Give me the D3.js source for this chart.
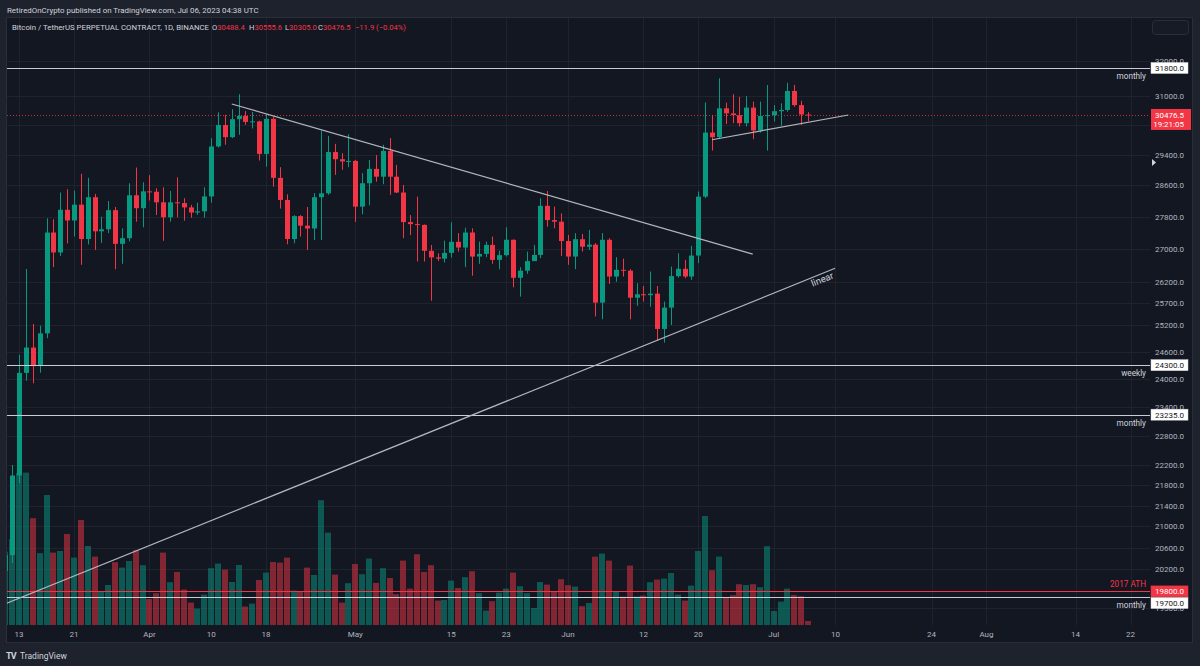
<!DOCTYPE html>
<html><head><meta charset="utf-8">
<script src="https://cdn.jsdelivr.net/npm/d3@7"></script>
<style>
html,body{margin:0;padding:0;background:#1e222d;}
svg{display:block;font-family:Roboto,"Liberation Sans",sans-serif;}
</style></head><body>
<svg id="c" width="1200" height="666"></svg>
<script>
// ---------- data (daily BTCUSDT perpetual, Mar 11 – Jul 6 2023) ----------
const startDate = "2023-03-11";
const open = [20170,20460,21990,24130,24690,24280,25010,27400,26910,27970,27700,28100,27240,28290,27430,27480,27960,27120,27260,28340,28010,28440,28430,28160,27780,28160,28140,28030,27900,27930,28310,29620,30200,29870,30360,30450,30285,30300,29420,30370,28790,28220,27240,27810,27570,27500,28290,28390,29470,29280,29220,29235,28050,28650,29025,28820,29500,28820,28410,27660,27610,27590,26950,26790,26760,26900,27170,27030,27400,26810,26875,27095,26730,26845,27220,26300,26470,26700,26850,28070,27710,27670,27190,26810,27235,27050,27100,25715,27220,26330,26490,26470,25830,25910,25890,25925,25110,25600,26340,26515,26330,26835,28305,29995,29870,30660,30520,30470,30250,30680,30050,30450,30470,30580,30615,31145,30750,30488.4];
const high = [20800,22200,24530,26510,25225,25185,27755,27730,28410,28495,28460,28895,28790,28375,27795,28195,28040,27505,28650,29060,28675,28860,28520,28545,28450,28805,28265,28095,28150,28545,29845,30550,30480,30635,31055,30585,30560,30320,30495,30430,29070,28365,27835,27835,28040,28395,30050,29905,29690,29440,29950,29260,28915,29260,29390,29665,29845,29130,28605,27835,28305,27600,27095,26890,27200,27655,27385,27520,27505,27175,27175,27300,26955,27530,27230,26555,26930,27095,28265,28450,28050,27880,27340,27385,27365,27465,27140,27385,27260,26795,26760,26505,26170,26105,26450,26105,25740,26570,26890,26730,27070,28435,30825,30476,31505,30815,31055,30980,31000,30845,30845,31315,30750,30800,31380,31315,30870,30555.6];
const low = [19900,20315,21840,23960,23905,24135,24900,26555,26825,27130,27300,26610,27105,26970,27145,27385,26505,26635,27180,27670,27530,28205,27835,27195,27670,27780,27695,27770,27840,27770,28150,29590,29665,29845,29935,30205,30105,29245,29085,28560,28000,27110,27135,27300,26970,27215,27215,28350,28870,29000,29070,27665,27855,28085,28690,28625,28350,28395,27260,27335,26690,26690,25760,26705,26665,26785,26930,26555,26350,26635,26795,26635,26505,26810,26075,25855,26395,26745,26770,27545,27505,26825,26610,26505,26930,26970,25395,25330,26155,26205,26330,25330,25640,25740,25620,24845,24800,25200,26305,26290,26250,26650,28265,29510,29845,30230,30250,30160,30160,29815,29995,29510,30295,30180,30565,30705,30205,30305.0];
const close = [20460,21990,24130,24690,24280,25010,27400,26910,27970,27700,28100,27240,28290,27430,27480,27960,27120,27260,28340,28010,28440,28430,28160,27780,28160,28140,28030,27900,27930,28310,29620,30200,29870,30360,30450,30285,30300,29420,30370,28790,28220,27240,27810,27570,27500,28290,28390,29470,29280,29220,29235,28050,28650,29025,28820,29500,28820,28410,27660,27610,27590,26950,26790,26760,26900,27170,27030,27400,26810,26875,27095,26730,26845,27220,26300,26470,26700,26850,28070,27710,27670,27190,26810,27235,27050,27100,25715,27220,26330,26490,26470,25830,25910,25890,25925,25110,25600,26340,26515,26330,26835,28305,29995,29870,30660,30520,30470,30250,30680,30050,30450,30470,30580,30615,31145,30750,30488.4,30476.5];
const volume = [367,430,760,762,534,359,650,362,370,455,337,525,395,342,167,200,314,287,320,375,299,130,159,362,214,265,177,112,82,152,284,307,277,215,300,92,107,225,262,315,312,337,172,170,287,250,624,462,252,112,209,305,254,332,210,284,235,154,322,182,354,265,299,122,125,222,185,239,269,159,72,119,162,182,262,194,159,85,215,202,169,229,199,192,94,110,342,357,322,165,142,297,142,147,214,227,232,260,152,122,197,370,545,274,342,140,149,204,200,204,189,394,70,117,182,150,144,20];

const priceTicks = [32000,31000,30200,29400,28600,27800,27000,26200,25700,25200,24600,24000,23400,22800,22200,21800,21400,21000,20600,20200,19500];
const timeTickDates = ["2023-03-13","2023-03-21","2023-04-01","2023-04-10","2023-04-18","2023-05-01","2023-05-15","2023-05-23","2023-06-01","2023-06-12","2023-06-20","2023-07-01","2023-07-10","2023-07-24","2023-08-01","2023-08-14","2023-08-22"];
const timeTickLabels = ["13","21","Apr","10","18","May","15","23","Jun","12","20","Jul","10","24","Aug","14","22"];

const levelPrices = [31800,24300,23235,19800,19700];
const levelNames  = ["monthly","weekly","monthly","2017 ATH","monthly"];
const levelKinds  = ["white","white","white","red","white"];

const trendStart = [["2023-04-13T00:00Z",30780],["2023-03-10T00:00Z",19530],["2023-06-22T00:00Z",29800]];
const trendEnd   = [["2023-06-27T22:30Z",26870],["2023-07-09T22:30Z",26527],["2023-07-11T21:00Z",30476]];

const lastPrice = 30476.5;
const countdown = "19:21:05";
const symbolText = "Bitcoin / TetherUS PERPETUAL CONTRACT, 1D, BINANCE";
const ohlcLabels = ["O","H","L","C"];
const ohlcValues = ["30488.4","30555.6","30305.0","30476.5"];
const changeText = "\u221211.9 (\u22120.04%)";
const headerText = "RetiredOnCrypto published on TradingView.com, Jul 06, 2023 04:38 UTC";

// ---------- layout ----------
const W = 1200, H = 666;
const PL = 7, PR = 1150, PT = 18, PB = 625, AX = 1192, FB = 642;
const GREEN = "#089981", RED = "#f23645", TXT = "#b2b5be", BG = "#131722";

const svg = d3.select("#c");
const parse = s => new Date(s.length > 10 ? s : s + "T00:00:00Z");
const start = parse(startDate);
const dates = open.map((_, i) => d3.utcDay.offset(start, i));

const x = d3.scaleUtc().domain([parse("2023-03-13"), parse("2023-08-22")]).range([19.1, 1130.5]);
const y = d3.scaleLog().domain([31800, 19700]).range([68, 597]);
const yv = d3.scaleLinear().domain([0, 800]).range([PB, PB - 160]);

svg.append("rect").attr("width", W).attr("height", H).attr("fill", "#1e222d");
svg.append("rect").attr("x", PL - 0.5).attr("y", PT - 0.5).attr("width", AX - PL + 1).attr("height", FB - PT + 1)
  .attr("fill", BG).attr("stroke", "#2a2e39");

const defs = svg.append("defs");
defs.append("clipPath").attr("id", "plot").append("rect").attr("x", PL).attr("y", PT).attr("width", PR - PL).attr("height", PB - PT);
const plot = svg.append("g").attr("clip-path", "url(#plot)");

// grid
plot.append("g").selectAll("line").data(priceTicks).join("line")
  .attr("x1", PL).attr("x2", PR).attr("y1", d => Math.round(y(d)) + 0.5).attr("y2", d => Math.round(y(d)) + 0.5)
  .attr("stroke", "#1f232e");
plot.append("g").selectAll("line").data(timeTickDates).join("line")
  .attr("x1", d => Math.round(x(parse(d))) + 0.5).attr("x2", d => Math.round(x(parse(d))) + 0.5)
  .attr("y1", PT).attr("y2", PB).attr("stroke", "#1f232e");

// volume
plot.append("g").selectAll("rect").data(volume).join("rect")
  .attr("x", (d, i) => Math.round(x(dates[i])) - 3)
  .attr("width", 6)
  .attr("y", d => yv(d)).attr("height", d => PB - yv(d))
  .attr("fill", (d, i) => close[i] >= open[i] ? GREEN : RED)
  .attr("fill-opacity", 0.5);

// last price dotted line
plot.append("line").attr("x1", PL).attr("x2", PR)
  .attr("y1", Math.round(y(lastPrice)) + 0.5).attr("y2", Math.round(y(lastPrice)) + 0.5)
  .attr("stroke", RED).attr("stroke-dasharray", "1,2").attr("stroke-opacity", 0.8);

// candles
const cg = plot.append("g").selectAll("g").data(open).join("g");
cg.append("line")
  .attr("x1", (d, i) => Math.round(x(dates[i])) + 0.5).attr("x2", (d, i) => Math.round(x(dates[i])) + 0.5)
  .attr("y1", (d, i) => y(high[i])).attr("y2", (d, i) => y(low[i]))
  .attr("stroke", (d, i) => close[i] >= open[i] ? GREEN : RED);
cg.append("rect")
  .attr("x", (d, i) => Math.round(x(dates[i])) - 2)
  .attr("width", 5)
  .attr("y", (d, i) => Math.min(y(open[i]), y(close[i])))
  .attr("height", (d, i) => Math.max(1, Math.abs(y(open[i]) - y(close[i]))))
  .attr("fill", (d, i) => close[i] >= open[i] ? GREEN : RED);

// horizontal levels
levelPrices.forEach((p, i) => {
  const yy = Math.round(y(p)) + 0.5;
  plot.append("line").attr("x1", PL).attr("x2", PR).attr("y1", yy).attr("y2", yy)
    .attr("stroke", levelKinds[i] === "red" ? RED : "#c9ccd4").attr("stroke-width", 1);
  const above = levelKinds[i] === "red";
  svg.append("text").attr("x", 1146).attr("y", above ? yy - 5 : yy + 10)
    .attr("text-anchor", "end").attr("font-size", 8.2)
    .attr("fill", above ? RED : "#d1d4dc").text(levelNames[i]);
});

// trend lines
trendStart.forEach((s, i) => {
  const e = trendEnd[i];
  plot.append("line")
    .attr("x1", x(parse(s[0]))).attr("y1", y(s[1]))
    .attr("x2", x(parse(e[0]))).attr("y2", y(e[1]))
    .attr("stroke", "#b2b5be").attr("stroke-width", 1.2);
});
// "linear" label along the rising line
{
  const s = trendStart[1], e = trendEnd[1];
  const x1 = x(parse(s[0])), y1 = y(s[1]), x2 = x(parse(e[0])), y2 = y(e[1]);
  const ang = Math.atan2(y2 - y1, x2 - x1) * 180 / Math.PI;
  const t = 0.985;
  const px = x1 + (x2 - x1) * t, py = y1 + (y2 - y1) * t;
  svg.append("text").attr("transform", `translate(${px + 1},${py + 9}) rotate(${ang})`)
    .attr("text-anchor", "middle").attr("font-size", 9.5).attr("fill", "#d1d4dc").text("linear");
}

// price axis labels
svg.append("g").selectAll("text").data(priceTicks).join("text")
  .attr("x", 1184).attr("y", d => y(d) + 3).attr("text-anchor", "end")
  .attr("font-size", 8).attr("fill", TXT).text(d => d3.format(".1f")(d));

// time axis labels
svg.append("g").selectAll("text").data(timeTickDates).join("text")
  .attr("x", d => x(parse(d))).attr("y", 637).attr("text-anchor", "middle")
  .attr("font-size", 8).attr("fill", TXT).text((d, i) => timeTickLabels[i]);

// level price boxes
const boxY = [68, 365, 414, 591, 603];
levelPrices.forEach((p, i) => {
  const red = levelKinds[i] === "red";
  const cy = Math.max(boxY[i], y(p));
  svg.append("rect").attr("x", 1151).attr("y", cy - 5.5).attr("width", 37).attr("height", 11)
    .attr("fill", red ? RED : "#ffffff").attr("stroke", red ? RED : "#d1d4dc").attr("stroke-width", 0.5);
  svg.append("text").attr("x", 1184).attr("y", cy + 3).attr("text-anchor", "end")
    .attr("font-size", 8).attr("fill", red ? "#ffffff" : "#131722").text(d3.format(".1f")(p));
});

// current price box
{
  const cy = y(lastPrice);
  svg.append("rect").attr("x", 1151).attr("y", cy - 6).attr("width", 40).attr("height", 21).attr("fill", RED);
  svg.append("text").attr("x", 1184).attr("y", cy + 3).attr("text-anchor", "end")
    .attr("font-size", 8).attr("fill", "#ffffff").text(d3.format(".1f")(lastPrice));
  svg.append("text").attr("x", 1184).attr("y", cy + 12).attr("text-anchor", "end")
    .attr("font-size", 8).attr("fill", "#ffffff").text(countdown);
}

// small right marker triangle
svg.append("path").attr("d", "M1152,159 L1156,162.5 L1152,166 Z").attr("fill", "#d1d4dc");

// top-right small button
svg.append("rect").attr("x", 1152.5).attr("y", 20.5).attr("width", 36).attr("height", 14).attr("rx", 3)
  .attr("fill", "#171b26").attr("stroke", "#2a2e39");

// header
svg.append("text").attr("x", 7).attr("y", 13).attr("font-size", 7.9).attr("fill", "#d1d4dc").text(headerText);
svg.append("text").attr("x", 12).attr("y", 30).attr("font-size", 7.8).attr("fill", "#d1d4dc").text(symbolText);
const ohlcX = [212, 249, 285, 318];
ohlcLabels.forEach((l, i) => {
  const t = svg.append("text").attr("x", ohlcX[i]).attr("y", 30).attr("font-size", 7.6);
  t.append("tspan").attr("fill", "#d1d4dc").text(l);
  t.append("tspan").attr("fill", RED).text(ohlcValues[i]);
});
svg.append("text").attr("x", 355).attr("y", 30).attr("font-size", 7.6).attr("fill", RED).text(changeText);

// TradingView logo
svg.append("text").attr("x", 6).attr("y", 659).attr("font-size", 9).attr("font-weight", 700)
  .attr("fill", "#d1d4dc").attr("letter-spacing", -1).text("TV");
svg.append("text").attr("x", 20).attr("y", 659).attr("font-size", 8.5).attr("fill", "#d1d4dc").text("TradingView");
</script>
</body></html>
